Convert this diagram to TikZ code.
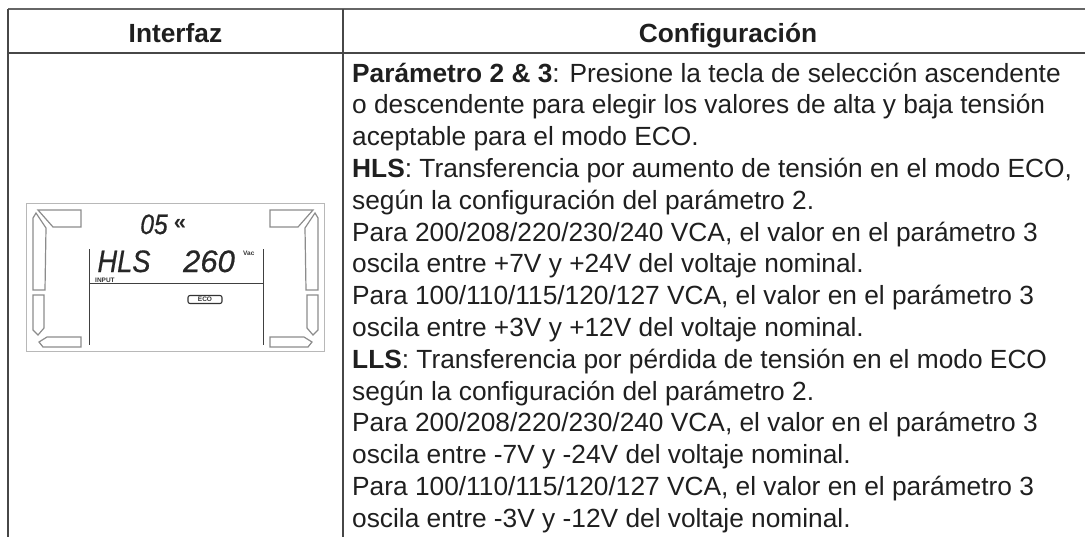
\documentclass[tikz,border=0pt]{standalone}
\usepackage{fontspec}
\setmainfont{Liberation Sans}
\newfontfamily\lcdnarrow[FakeStretch=0.88,FakeBold=0.6]{Liberation Sans}
\newfontfamily\lcdwide[FakeBold=0.6]{Liberation Sans}
\begin{document}
\begin{tikzpicture}[x=1pt,y=-1pt,
  tline/.style={draw=black!72, line width=1.4pt},
  body/.style={anchor=base west, inner sep=0pt, font=\fontsize{26.3}{31.8}\selectfont, text=black!88},
  head/.style={anchor=base, inner sep=0pt, font=\fontsize{26.3}{31.8}\selectfont\bfseries, text=black!88},
  seg/.style={draw=black!45, line width=1.2pt, fill=white, line join=miter},
  lcdline/.style={draw=black!75, line width=1pt},
  lcd/.style={inner sep=0pt, text depth=0pt, text=black!85},
  tinytxt/.style={inner sep=0pt, text depth=0pt, font=\fontsize{6.5}{6.5}\selectfont\bfseries, text=black!80}]
\clip (0,0) rectangle (1085,536);
\useasboundingbox (0,0) rectangle (1085,536);
% table
\draw[tline, draw=black!60] (8,9) -- (1115,9);
\draw[tline] (8,53) -- (1115,53);
\draw[tline] (8,9) -- (8,540);
\draw[tline] (343,9) -- (343,540);
\node[head] (h1) at (175.5,42) {Interfaz};
\node[head] (h2) at (728,42) {Configuración};
% body text
\node[body] (l1) at (352,82) {\textbf{Parámetro 2 \& 3}: Presione la tecla de selección ascendente};
\node[body] (l2) at (352,113.8) {o descendente para elegir los valores de alta y baja tensión};
\node[body] (l3) at (352,145.6) {aceptable para el modo ECO.};
\node[body] (l4) at (352,177.4) {\textbf{HLS}: Transferencia por aumento de tensión en el modo ECO,};
\node[body] (l5) at (352,209.2) {según la configuración del parámetro 2.};
\node[body] (l6) at (352,241) {Para 200/208/220/230/240 VCA, el valor en el parámetro 3};
\node[body] (l7) at (352,272.8) {oscila entre +7V y +24V del voltaje nominal.};
\node[body] (l8) at (352,304.6) {Para 100/110/115/120/127 VCA, el valor en el parámetro 3};
\node[body] (l9) at (352,336.4) {oscila entre +3V y +12V del voltaje nominal.};
\node[body] (l10) at (352,368.2) {\textbf{LLS}: Transferencia por pérdida de tensión en el modo ECO};
\node[body] (l11) at (352,400) {según la configuración del parámetro 2.};
\node[body] (l12) at (352,431.8) {Para 200/208/220/230/240 VCA, el valor en el parámetro 3};
\node[body] (l13) at (352,463.6) {oscila entre -7V y -24V del voltaje nominal.};
\node[body] (l14) at (352,495.4) {Para 100/110/115/120/127 VCA, el valor en el parámetro 3};
\node[body] (l15) at (352,527.2) {oscila entre -3V y -12V del voltaje nominal.};
% LCD
\draw[draw=black!28, line width=1pt] (26,203) rectangle (324,351);
\draw[lcdline] (89,249) -- (89,345);
\draw[lcdline] (89,283.5) -- (263,283.5);
\draw[lcdline] (263,249) -- (263,345);
\foreach \s/\o in {1/0,-1/351}{
  \begin{scope}[xshift=\o pt, xscale=\s]
    \draw[seg] (38,210) -- (81,210) -- (81,227) -- (53,227) -- cycle;
    \draw[seg] (33,218) -- (36,213) -- (46,228) -- (45,290) -- (33,290) -- cycle;
    \draw[seg] (33,295) -- (44,295) -- (44,328) -- (38,335) -- (33,330) -- cycle;
    \draw[seg] (39,342) -- (47,337) -- (81,337) -- (81,347) -- (43,347) -- cycle;
  \end{scope}
}
\node[lcd, anchor=base, font=\fontsize{28}{28}\selectfont\lcdnarrow\itshape] (d05) at (154,234) {05};
\node[lcd, anchor=base, font=\fontsize{22}{22}\selectfont\bfseries] (chev) at (180,229) {«};
\node[lcd, anchor=base, font=\fontsize{31}{31}\selectfont\lcdnarrow\itshape] (hls) at (124,272) {HLS};
\node[lcd, anchor=base, font=\fontsize{31}{31}\selectfont\lcdwide\itshape] (v260) at (209,272) {260};
\node[tinytxt, anchor=base west] (vac) at (243,255) {Vac};
\node[tinytxt, anchor=base west] (inp) at (95,282.3) {INPUT};
\node[tinytxt, draw=black!80, line width=1.1pt, rounded corners=2pt, minimum width=34pt, minimum height=8pt, inner sep=0.5pt] (eco) at (205,299.5) {ECO};
\end{tikzpicture}
\end{document}
